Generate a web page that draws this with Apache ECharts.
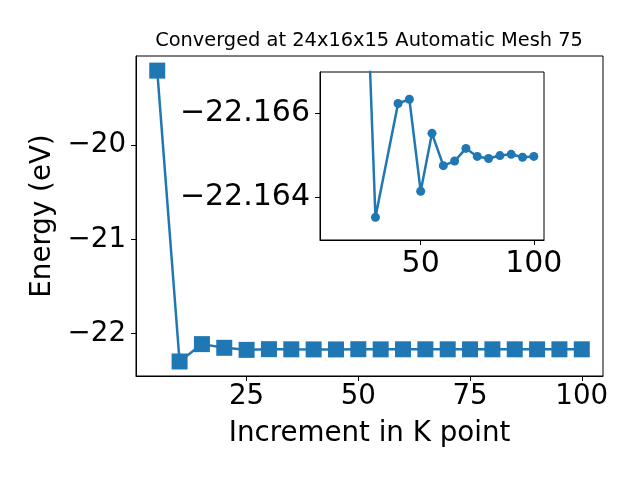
<!DOCTYPE html>
<html>
<head>
<meta charset="utf-8">
<script src="https://cdn.jsdelivr.net/npm/echarts@6/dist/echarts.min.js"></script>
<style>html,body{margin:0;padding:0;background:#fff}#c{width:640px;height:480px}</style>
</head>
<body>
<div id="c"></div>
<script>
// Main plot data
const kPoints = [5, 10, 15, 20, 25, 30, 35, 40, 45, 50, 55, 60, 65, 70, 75, 80, 85, 90, 95, 100];
const energy = [-19.21, -22.294, -22.11, -22.149, -22.1709, -22.16352, -22.165, -22.16623, -22.16633, -22.16414,
  -22.16552, -22.16475, -22.16486, -22.16516, -22.16497, -22.16492, -22.16499, -22.16502, -22.16495, -22.16497];
// Inset data
const insetK = [25, 30, 40, 45, 50, 55, 60, 65, 70, 75, 80, 85, 90, 95, 100];
const insetE = [-22.1709, -22.16352, -22.16623, -22.16633, -22.16414, -22.16552, -22.16475, -22.16486,
  -22.16516, -22.16497, -22.16492, -22.16499, -22.16502, -22.16495, -22.16497];
// Tick labels
const mainXTicks = [25, 50, 75, 100];
const mainYTicks = [-22, -21, -20];
const insetXTicks = [50, 100];
const insetYTicks = [-22.166, -22.164];

const FONT = 'DejaVu Sans';
const BLUE = '#1f77b4';
const minus = v => String(v).replace('-', '\u2212');

const chart = echarts.init(document.getElementById('c'), null, {renderer: 'canvas'});
const axisCommon = {
  axisLine: {show: true, onZero: false, lineStyle: {color: '#000', width: 1}},
  axisTick: {show: true, length: 5, lineStyle: {color: '#000', width: 1}},
  splitLine: {show: false}
};
chart.setOption({
  animation: false,
  backgroundColor: '#fff',
  title: {
    text: 'Converged at 24x16x15 Automatic Mesh 75',
    left: 369, top: 31, textAlign: 'center', padding: 0,
    textStyle: {fontFamily: FONT, fontSize: 19.4, fontWeight: 'normal', color: '#000'}
  },
  grid: [
    {left: 136, right: 37, top: 56, bottom: 104, show: true, borderColor: '#000', borderWidth: 1, backgroundColor: 'transparent'},
    {left: 320, top: 72, width: 224, height: 168, show: true, borderColor: '#000', borderWidth: 1, backgroundColor: '#fff'}
  ],
  xAxis: [
    Object.assign({}, axisCommon, {
      type: 'value', gridIndex: 0, min: 0.25, max: 104.75,
      name: 'Increment in K point', nameLocation: 'middle', nameGap: 44,
      nameTextStyle: {fontFamily: FONT, fontSize: 27.7, color: '#000'},
      axisTick: {show: true, length: 5, customValues: mainXTicks, lineStyle: {color: '#000'}},
      axisLabel: {customValues: mainXTicks, fontFamily: FONT, fontSize: 27.7, color: '#000', margin: 7, formatter: minus}
    }),
    Object.assign({}, axisCommon, {
      type: 'value', gridIndex: 1, min: 5.5, max: 104.5,
      axisTick: {show: true, length: 5, customValues: insetXTicks, lineStyle: {color: '#000'}},
      axisLabel: {customValues: insetXTicks, fontFamily: FONT, fontSize: 30, color: '#000', margin: 9, formatter: minus}
    })
  ],
  yAxis: [
    Object.assign({}, axisCommon, {
      type: 'value', gridIndex: 0, min: -22.448, max: -19.055,
      name: 'Energy (eV)', nameLocation: 'middle', nameGap: 75,
      nameTextStyle: {fontFamily: FONT, fontSize: 27.7, color: '#000'},
      axisTick: {show: true, length: 5, customValues: mainYTicks, lineStyle: {color: '#000'}},
      axisLabel: {customValues: mainYTicks, fontFamily: FONT, fontSize: 27.7, color: '#000', margin: 10,
        padding: [4, 0, 0, 0], formatter: minus}
    }),
    Object.assign({}, axisCommon, {
      type: 'value', gridIndex: 1, min: -22.16698, max: -22.16298, inverse: true,
      axisTick: {show: true, length: 5, customValues: insetYTicks, lineStyle: {color: '#000'}},
      axisLabel: {customValues: insetYTicks, fontFamily: FONT, fontSize: 30, color: '#000', margin: 10,
        padding: [4, 0, 0, 0], formatter: v => minus(Number(v).toFixed(3))}
    })
  ],
  series: [
    {
      type: 'line', xAxisIndex: 0, yAxisIndex: 0,
      data: kPoints.map((k, i) => [k, energy[i]]),
      symbol: 'rect', symbolSize: 16,
      lineStyle: {color: BLUE, width: 2.5},
      itemStyle: {color: BLUE},
      clip: true, z: 2
    },
    {
      type: 'line', xAxisIndex: 1, yAxisIndex: 1,
      data: insetK.map((k, i) => [k, insetE[i]]),
      symbol: 'circle', symbolSize: 9,
      lineStyle: {color: BLUE, width: 2.5},
      itemStyle: {color: BLUE},
      clip: true, z: 5
    }
  ]
});
</script>
</body>
</html>
